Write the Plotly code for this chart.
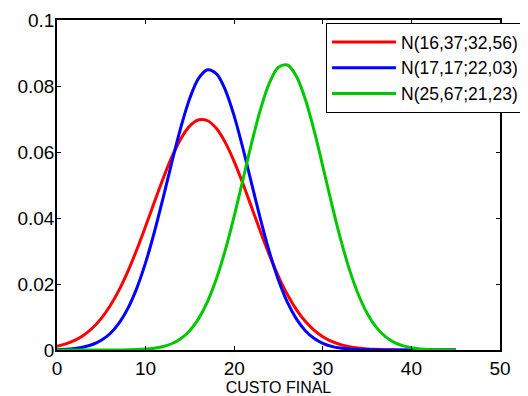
import plotly.graph_objects as go

x_vals = list(range(46))

red_vals = [0.00114, 0.00186, 0.00293, 0.00449, 0.00667, 0.0096, 0.01341, 0.01815, 0.02383, 0.03036,
            0.03749, 0.04489, 0.05213, 0.05872, 0.06412, 0.06791, 0.06975, 0.06947, 0.06711, 0.06285,
            0.05709, 0.05029, 0.04296, 0.03559, 0.02859, 0.02227, 0.01682, 0.01233, 0.00876, 0.00603,
            0.00403, 0.00261, 0.00164, 0.001, 0.00059, 0.00034, 0.00019, 0.0001, 0.00005, 0.00003,
            0.00001, 0.00001, 0, 0, 0, 0]

blue_vals = [0.000106, 0.000225, 0.000458, 0.000892, 0.00166, 0.00295, 0.00501, 0.00813, 0.01261, 0.01868,
             0.02647, 0.03583, 0.04634, 0.05728, 0.06766, 0.07638, 0.0824, 0.08494, 0.08368, 0.07878,
             0.07087, 0.06094, 0.05006, 0.0393, 0.02949, 0.02114, 0.01448, 0.00949, 0.00593, 0.00355,
             0.00203, 0.00111, 0.00058, 0.00029, 0.00014, 0.00006, 0.00003, 0.00001, 0, 0,
             0, 0, 0, 0, 0, 0]

green_vals = [0, 0, 0, 0, 0, 0, 0.000005, 0.00002, 0.000056, 0.000124,
              0.000267, 0.000545, 0.00106, 0.00197, 0.0035, 0.00593, 0.00958, 0.01474, 0.02166, 0.03036,
              0.0406, 0.0518, 0.06305, 0.0732, 0.08107, 0.08567, 0.08636, 0.08305, 0.07619, 0.06668,
              0.05567, 0.04434, 0.0337, 0.02442, 0.01689, 0.01114, 0.00701, 0.00421, 0.00241, 0.00132,
              0.00069, 0.00034, 0.00016, 0.00007, 0.00003, 0.00001]

series_names = ["N(16,37;32,56)", "N(17,17;22,03)", "N(25,67;21,23)"]
series_colors = ["#ff0000", "#0000ff", "#00c800"]

x_ticks = [0, 10, 20, 30, 40, 50]
y_ticks = [0, 0.02, 0.04, 0.06, 0.08, 0.1]
y_tick_labels = ["0", "0.02", "0.04", "0.06", "0.08", "0.1"]

FONT = "Arial, Liberation Sans, sans-serif"

# the page body has an 8px default margin, so the figure is offset by 8px
fig = go.Figure()
for vals, name, col in zip([red_vals, blue_vals, green_vals], series_names, series_colors):
    fig.add_trace(go.Scatter(x=x_vals, y=vals, mode="lines", name=name,
                             line=dict(color=col, width=3, shape="spline")))

fig.update_layout(
    width=520, height=388,
    margin=dict(l=49, r=28, t=12, b=46, autoexpand=False),
    paper_bgcolor="white", plot_bgcolor="white",
    font=dict(family=FONT, size=19, color="black"),
    showlegend=True,
    legend=dict(x=(318 - 49) / 443, y=(342 - 15) / 330, xanchor="left", yanchor="top",
                bgcolor="white", bordercolor="black", borderwidth=1,
                font=dict(family=FONT, size=17.5, color="black"),
                tracegroupgap=0, itemwidth=64),
)
fig.update_xaxes(range=[0, 50], tickvals=x_ticks, ticks="inside", ticklen=4, tickcolor="black",
                 showline=True, linecolor="black", linewidth=1.5, mirror="ticks",
                 showgrid=False, zeroline=False,
                 title=dict(text="CUSTO FINAL", font=dict(size=16), standoff=7))
fig.update_yaxes(range=[0, 0.1], tickvals=y_ticks, ticktext=y_tick_labels, ticks="inside", ticklen=4,
                 tickcolor="black", showline=True, linecolor="black", linewidth=1.5, mirror="ticks",
                 showgrid=False, zeroline=False, ticklabelstandoff=-3)

fig.write_html("out.html")
